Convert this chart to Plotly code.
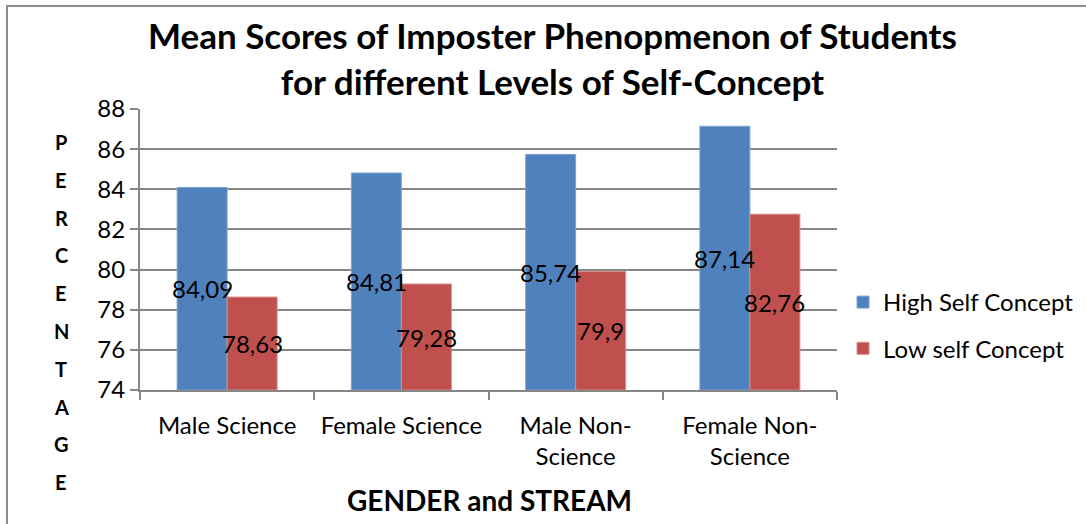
import plotly.graph_objects as go

categories = ["Male Science", "Female Science", "Male Non-<br>Science", "Female Non-<br>Science"]
high_self = [84.09, 84.81, 85.74, 87.14]
low_self = [78.63, 79.28, 79.9, 82.76]
series_names = ["High Self Concept", "Low self Concept"]
y_ticks = [74, 76, 78, 80, 82, 84, 86, 88]
y_title = "PERCENTAGE"
y_base = 74

FONT = "Lato"
W, H = 1086, 524
ML, MR, MT, MB = 140, 249, 109, 134
PW, PH = W - ML - MR, H - MT - MB
BARGAP = 0.426
BAR_PX = PW / len(categories) * (1 - BARGAP) / 2


def px(x):
    return (x - ML) / PW


def py(y):
    return (H - MB - y) / PH


def fmt(v):
    return str(v).replace(".", ",")


fig = go.Figure()
annotations = []
for k, (name, vals, col, edge, grp) in enumerate([
    (series_names[0], high_self, "#4F81BD", "#7EA3D3", "a"),
    (series_names[1], low_self, "#C0504D", "#D58C8A", "b"),
]):
    fig.add_trace(go.Bar(
        x=categories, y=[v - y_base for v in vals], base=y_base, name=name,
        legendgroup=grp,
        marker=dict(color=col, line=dict(color=edge, width=1)),
        hoverinfo="skip",
    ))
    shift = (k - 0.5) * BAR_PX
    for c, v in zip(categories, vals):
        annotations.append(dict(
            text=fmt(v), x=c, y=(y_base + v) / 2, xref="x", yref="y",
            xshift=shift, showarrow=False, xanchor="center", yanchor="middle",
            font=dict(family=FONT, size=24, color="black")))

annotations += [
    dict(text="<b>Mean Scores of Imposter Phenopmenon of Students<br>for different Levels of Self-Concept</b>",
         x=px(552), y=py(58), xref="paper", yref="paper", showarrow=False,
         font=dict(family=FONT, size=35, color="black"), xanchor="center", yanchor="middle"),
    dict(text="<b>GENDER and STREAM</b>", x=px(489), y=py(500), xref="paper", yref="paper",
         showarrow=False, font=dict(family=FONT, size=28, color="black"),
         xanchor="center", yanchor="middle"),
]
for i, ch in enumerate(y_title):
    annotations.append(dict(text=f"<b>{ch}</b>", x=px(61), y=py(142 + i * 37.8),
                            xref="paper", yref="paper", showarrow=False,
                            font=dict(family=FONT, size=20, color="black"),
                            xanchor="center", yanchor="middle"))

shapes = [dict(type="path", xref="paper", yref="paper",
               path=f"M {px(7)},{py(540)} L {px(7)},{py(6)} L {px(1095)},{py(6)}",
               line=dict(color="#8C8C8C", width=2))]

fig.update_layout(
    width=W, height=H, margin=dict(l=ML, r=MR, t=MT, b=MB, autoexpand=False),
    paper_bgcolor="white", plot_bgcolor="white",
    barmode="group", bargap=BARGAP, bargroupgap=0,
    font=dict(family=FONT, size=24, color="black"),
    xaxis=dict(type="category", showline=True, linecolor="#868686", linewidth=2,
               ticks="outside", tickson="boundaries", ticklen=8, tickcolor="#868686",
               tickwidth=2, showgrid=False, ticklabelstandoff=13,
               tickfont=dict(family=FONT, size=24, color="black")),
    yaxis=dict(range=[74, 88], tickvals=y_ticks, showline=True, linecolor="#868686",
               linewidth=2, ticks="outside", ticklen=8, tickcolor="#868686", tickwidth=2,
               showgrid=True, gridcolor="#868686", gridwidth=2, zeroline=False,
               tickfont=dict(family=FONT, size=24, color="black")),
    legend=dict(x=px(843), y=py(280), xanchor="left", yanchor="top",
                tracegroupgap=12, font=dict(family=FONT, size=24, color="black"),
                bgcolor="rgba(0,0,0,0)"),
    annotations=annotations, shapes=shapes, showlegend=True,
)

fig.write_html("out.html", config={"displayModeBar": False},
               post_script="document.body.style.margin='0';")
